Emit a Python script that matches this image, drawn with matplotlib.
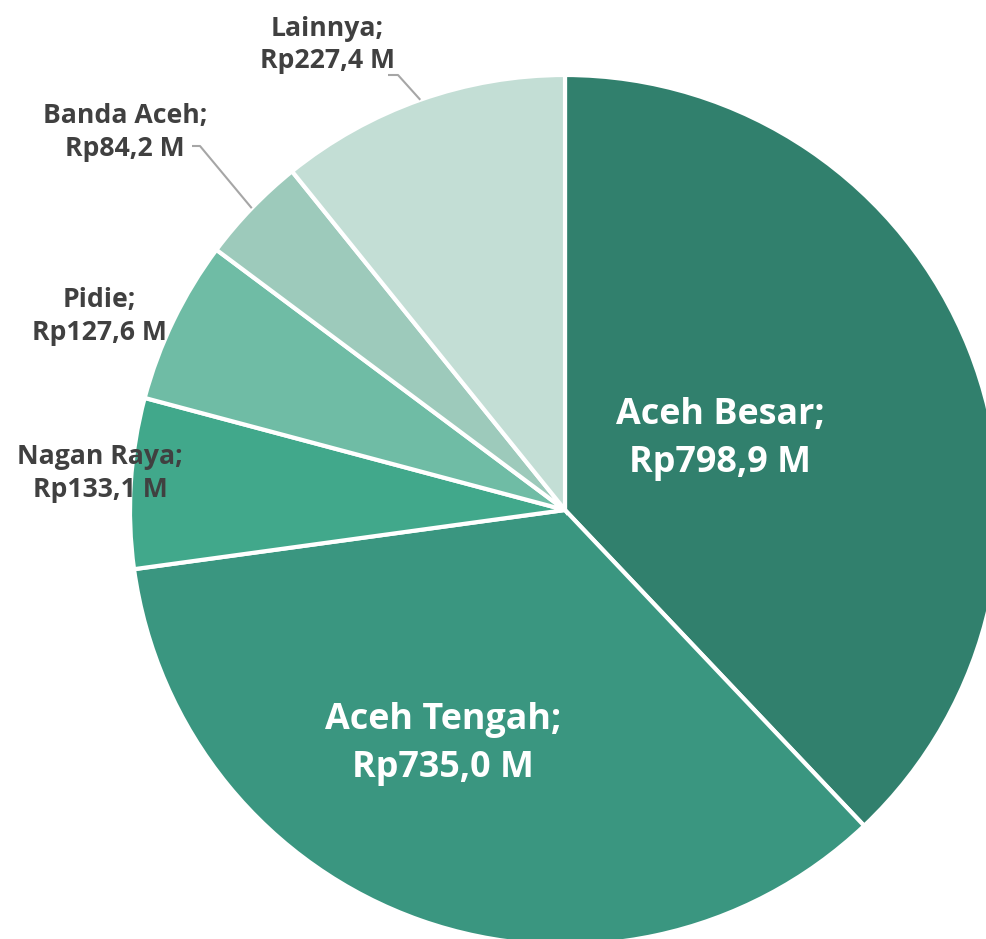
import matplotlib.pyplot as plt
import numpy as np

plt.rcParams['font.family'] = ['Open Sans', 'DejaVu Sans']

regions = ['Aceh Besar', 'Aceh Tengah', 'Nagan Raya', 'Pidie', 'Banda Aceh', 'Lainnya']
values = [798.9, 735.0, 133.1, 127.6, 84.2, 227.4]
colors = ['#31806d', '#3a9680', '#41a88b', '#6fbca5', '#9dcabb', '#c3ded5']

W, H = 987, 939
fig = plt.figure(figsize=(W / 100, H / 100), dpi=100)
ax = fig.add_axes([0, 0, 1, 1])

cx, cy, r = 565, H - 510, 435
wedges, _ = ax.pie(values, colors=colors, startangle=90, counterclock=False,
                   center=(cx, cy), radius=r, frame=True,
                   wedgeprops=dict(edgecolor='white', linewidth=3))
ax.set_xlim(0, W)
ax.set_ylim(0, H)
ax.set_aspect('equal')
ax.axis('off')

labels = [f'{n};\nRp{v:.1f} M'.replace('.', ',') for n, v in zip(regions, values)]

# inside labels (big slices)
inside = {0: (720, 439), 1: (443, 744)}
for i, (px, py) in inside.items():
    ax.text(px, H - py, labels[i], color='white', fontsize=25.8, fontweight='bold',
            ha='center', va='center', linespacing=1.42)

# outside labels
outside = {2: (100, 474), 3: (99, 317), 4: (125, 133), 5: (327, 45)}
for i, (px, py) in outside.items():
    ax.text(px, H - py, labels[i], color='#404040', fontsize=19.2, fontweight='bold',
            ha='center', va='center', linespacing=1.35)

# leader lines for Banda Aceh and Lainnya
leaders = {4: (192, 200, 146), 5: (388, 398, 75)}
for i, (x0, x1, ly) in leaders.items():
    w = wedges[i]
    mid = np.deg2rad((w.theta1 + w.theta2) / 2)
    ex, ey = cx + r * np.cos(mid), cy + r * np.sin(mid)
    ax.plot([x0, x1, ex], [H - ly, H - ly, ey], color='#a6a6a6', lw=1.5,
            solid_capstyle='butt')

fig.savefig('out.png', dpi=100)
